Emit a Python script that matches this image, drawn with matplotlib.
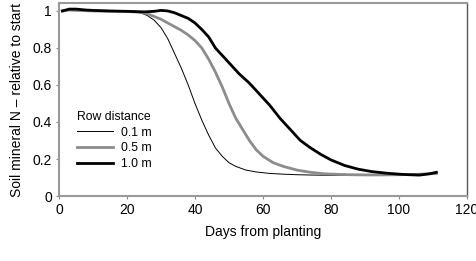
import matplotlib
matplotlib.use("Agg")
import matplotlib.pyplot as plt

plt.rcParams['font.family'] = ['Liberation Sans', 'DejaVu Sans']

days_01 = [1, 3, 5, 10, 15, 20, 24, 26, 28, 30, 32, 34, 36, 38, 40, 42, 44, 46, 48, 50,
           52, 55, 58, 62, 66, 70, 75, 80, 85, 90, 95, 100, 105, 111]
n_01 = [1.0, 1.005, 1.003, 1.0, 0.998, 0.997, 0.99, 0.975, 0.95, 0.91, 0.85, 0.77, 0.69,
        0.60, 0.50, 0.41, 0.33, 0.26, 0.215, 0.18, 0.16, 0.14, 0.13, 0.122, 0.118, 0.115,
        0.113, 0.112, 0.112, 0.112, 0.112, 0.113, 0.115, 0.12]

days_05 = [1, 3, 5, 10, 15, 20, 24, 26, 28, 30, 32, 34, 36, 38, 40, 42, 44, 46, 48, 50,
           52, 54, 56, 58, 60, 63, 66, 70, 74, 78, 82, 86, 90, 95, 100, 105, 111]
n_05 = [1.0, 1.005, 1.003, 1.0, 0.998, 0.997, 0.993, 0.985, 0.97, 0.955, 0.935, 0.915, 0.895,
        0.87, 0.84, 0.80, 0.74, 0.67, 0.59, 0.50, 0.42, 0.36, 0.30, 0.25, 0.215, 0.18, 0.16,
        0.14, 0.128, 0.12, 0.117, 0.115, 0.114, 0.114, 0.115, 0.117, 0.122]

days_10 = [1, 3, 5, 8, 10, 15, 20, 25, 28, 30, 32, 34, 36, 38, 40, 42, 44, 46, 48, 50,
           53, 56, 59, 62, 65, 68, 71, 74, 77, 80, 84, 88, 92, 96, 100, 103, 106, 109, 111]
n_10 = [1.0, 1.01, 1.01, 1.005, 1.003, 1.0, 0.998, 0.995, 0.998, 1.003, 1.0, 0.99, 0.975,
        0.96, 0.935, 0.90, 0.86, 0.80, 0.76, 0.72, 0.66, 0.61, 0.55, 0.49, 0.42, 0.36, 0.30,
        0.26, 0.225, 0.195, 0.165, 0.145, 0.132, 0.124, 0.118, 0.115, 0.113, 0.12, 0.128]

labels = ['0.1 m', '0.5 m', '1.0 m']
xticks = [0, 20, 40, 60, 80, 100, 120]
yticks = [0, 0.2, 0.4, 0.6, 0.8, 1.0]
ytick_labels = ['0', '0.2', '0.4', '0.6', '0.8', '1']

fig = plt.figure(figsize=(4.77, 2.61), dpi=100)
ax = fig.add_axes([0.1237, 0.249, 0.979 - 0.1237, 0.9885 - 0.249])

ax.plot(days_01, n_01, color='black', lw=0.7, label=labels[0])
ax.plot(days_05, n_05, color='#8c8c8c', lw=2.0, label=labels[1])
ax.plot(days_10, n_10, color='black', lw=2.0, label=labels[2])

ax.set_xlim(0, 120)
ax.set_ylim(0, 1.043)
ax.set_xticks(xticks)
ax.set_xticklabels([str(t) for t in xticks])
ax.set_yticks(yticks)
ax.set_yticklabels(ytick_labels)
ax.tick_params(axis='both', labelsize=10, length=2, color='#888888', width=0.8, pad=3)

for side in ['left', 'bottom', 'top']:
    ax.spines[side].set_color('#999999')
    ax.spines[side].set_linewidth(1.5)
ax.spines['right'].set_color('#555555')
ax.spines['right'].set_linewidth(1.0)

ax.set_xlabel('Days from planting', fontsize=10, labelpad=6)
ax.set_ylabel('Soil mineral N – relative to start', fontsize=10, labelpad=6)

leg = ax.legend(title='Row distance', loc='upper left', bbox_to_anchor=(0.045, 0.44),
                frameon=False, fontsize=8.8, title_fontsize=8.8, handlelength=2.9,
                handletextpad=0.7, labelspacing=0.3, borderaxespad=0, borderpad=0)
leg._legend_box.align = 'left'

fig.savefig('out.png', dpi=100)
